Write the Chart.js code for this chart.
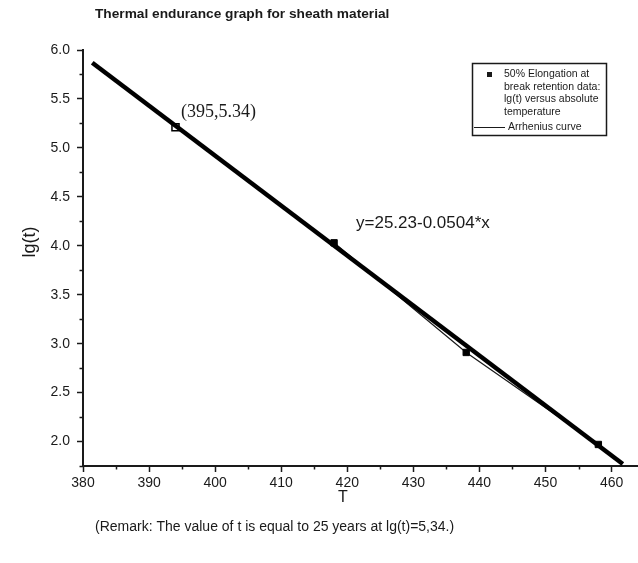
<!DOCTYPE html>
<html>
<head>
<meta charset="utf-8">
<script src="https://cdn.jsdelivr.net/npm/chart.js@4/dist/chart.umd.min.js"></script>
<style>
html, body { margin: 0; padding: 0; background: #fff; overflow: hidden; }
#wrap { width: 638px; height: 563px; }
</style>
</head>
<body>
<div id="wrap"><canvas id="grafica"></canvas></div>
<script>
// values
const tempK = [418, 438, 458];          // T of measured points
const lgT = [4.03, 2.91, 1.97];         // lg(t) of measured points
const fitT = [381.4, 461.7];            // ends of the fitted line
const fitLg = [5.87, 1.77];
const markT = [394];                    // open square (395,5.34)
const markLg = [5.21];
const xTicks = [380, 390, 400, 410, 420, 430, 440, 450, 460];
const xMinor = [385, 395, 405, 415, 425, 435, 445, 455];
const yTicks = [2.0, 2.5, 3.0, 3.5, 4.0, 4.5, 5.0, 5.5, 6.0];
const yMinor = [1.75, 2.25, 2.75, 3.25, 3.75, 4.25, 4.75, 5.25, 5.75];

const ink = '#1a1a1a';

const toPts = (xs, ys) => xs.map((x, i) => ({ x: x, y: ys[i] }));

const extras = {
    id: 'extras',
    afterDraw(chart) {
        const ctx = chart.ctx;
        const xs = chart.scales.x, ys = chart.scales.y;
        const ca = chart.chartArea;
        ctx.save();
        ctx.strokeStyle = ink;
        ctx.lineWidth = 1.5;
        // minor ticks
        xMinor.forEach(v => {
            const px = Math.round(xs.getPixelForValue(v)) + 0.5;
            ctx.beginPath(); ctx.moveTo(px, ca.bottom); ctx.lineTo(px, ca.bottom + 3.5); ctx.stroke();
        });
        yMinor.forEach(v => {
            const py = Math.round(ys.getPixelForValue(v)) + 0.5;
            ctx.beginPath(); ctx.moveTo(ca.left, py); ctx.lineTo(ca.left - 3.5, py); ctx.stroke();
        });

        ctx.fillStyle = ink;
        ctx.textBaseline = 'middle';
        ctx.textAlign = 'left';
        ctx.font = 'bold 13.7px "Liberation Sans", Arial, sans-serif';
        ctx.fillText('Thermal endurance graph for sheath material', 95, 14);

        ctx.font = '14px "Liberation Sans", Arial, sans-serif';
        ctx.fillText('(Remark: The value of t is equal to 25 years at lg(t)=5,34.)', 95, 527);

        ctx.font = '17px "Liberation Sans", Arial, sans-serif';
        ctx.fillText('y=25.23-0.0504*x', 356, 223);

        ctx.font = '18px "Liberation Serif", "Times New Roman", serif';
        ctx.fillText('(395,5.34)', 181, 112);

        ctx.textAlign = 'center';
        ctx.font = '16px "Liberation Sans", Arial, sans-serif';
        ctx.fillText('T', 343, 498);

        ctx.save();
        ctx.translate(30, 242);
        ctx.rotate(-Math.PI / 2);
        ctx.font = '18px "Liberation Sans", Arial, sans-serif';
        ctx.fillText('lg(t)', 0, 0);
        ctx.restore();

        // legend
        ctx.lineWidth = 1.5;
        ctx.strokeRect(472.5, 63.5, 134, 72);
        ctx.fillRect(487, 72, 5, 5);
        ctx.textAlign = 'left';
        ctx.font = '10.5px "Liberation Sans", Arial, sans-serif';
        ['50% Elongation at', 'break retention data:', 'lg(t) versus absolute', 'temperature']
            .forEach((s, i) => ctx.fillText(s, 504, 74.5 + i * 12.5));
        ctx.lineWidth = 1;
        ctx.beginPath(); ctx.moveTo(474, 127.5); ctx.lineTo(505, 127.5); ctx.stroke();
        ctx.fillText('Arrhenius curve', 508, 127.5);
        ctx.restore();
    }
};

new Chart(document.getElementById('grafica'), {
    type: 'scatter',
    data: {
        datasets: [
            {
                label: 'Arrhenius curve (points)',
                data: toPts(tempK, lgT),
                showLine: true,
                borderColor: ink,
                borderWidth: 1.2,
                pointRadius: 0,
                order: 3
            },
            {
                label: 'fit',
                data: toPts(fitT, fitLg),
                showLine: true,
                borderColor: '#000',
                borderWidth: 4.5,
                pointRadius: 0,
                order: 2
            },
            {
                label: '50% Elongation',
                data: toPts(tempK, lgT),
                pointStyle: 'rect',
                pointRadius: 4.5,
                backgroundColor: '#000',
                borderColor: '#000',
                order: 1
            },
            {
                label: 'mark',
                data: toPts(markT, markLg),
                pointStyle: 'rect',
                pointRadius: 5,
                backgroundColor: 'rgba(255,255,255,0)',
                borderColor: '#000',
                borderWidth: 1.5,
                order: 0
            }
        ]
    },
    options: {
        responsive: true,
        maintainAspectRatio: false,
        animation: false,
        layout: { autoPadding: false, padding: { top: 50, left: 0, right: 0, bottom: 0 } },
        plugins: {
            legend: { display: false },
            tooltip: { enabled: false }
        },
        scales: {
            x: {
                type: 'linear',
                min: 380,
                max: 464,
                afterBuildTicks: s => { s.ticks = xTicks.map(v => ({ value: v })); },
                afterFit: s => { s.height = 97; s.paddingLeft = 0; s.paddingRight = 0; },
                grid: { drawOnChartArea: false, drawTicks: true, tickLength: 6, tickColor: ink, tickWidth: 1.5 },
                border: { display: true, color: ink, width: 2 },
                ticks: {
                    color: ink,
                    padding: 3,
                    maxRotation: 0,
                    font: { size: 14, family: '"Liberation Sans", Arial, sans-serif' }
                }
            },
            y: {
                type: 'linear',
                min: 1.75,
                max: 6.0,
                afterBuildTicks: s => { s.ticks = yTicks.map(v => ({ value: v })); },
                afterFit: s => { s.width = 83; s.paddingTop = 0; s.paddingBottom = 0; },
                grid: { drawOnChartArea: false, drawTicks: true, tickLength: 6, tickColor: ink, tickWidth: 1.5 },
                border: { display: true, color: ink, width: 2 },
                ticks: {
                    color: ink,
                    padding: 7,
                    callback: v => Number(v).toFixed(1),
                    font: { size: 14, family: '"Liberation Sans", Arial, sans-serif' }
                }
            }
        }
    },
    plugins: [extras]
});
</script>
</body>
</html>
